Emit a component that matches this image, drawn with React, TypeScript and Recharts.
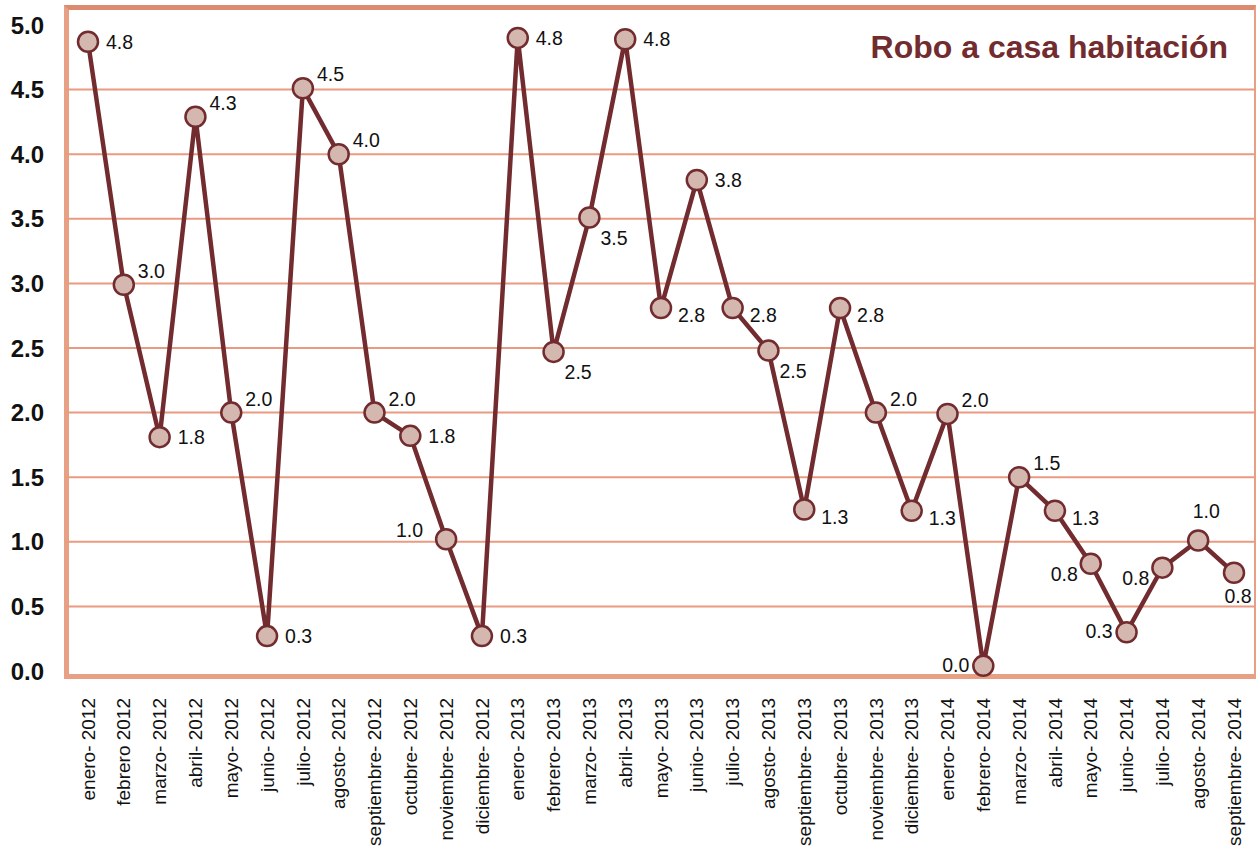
import React from 'react';
import { LineChart, Line, XAxis, YAxis, ReferenceLine } from 'recharts';

const meses = [
  'enero- 2012', 'febrero 2012', 'marzo- 2012', 'abril- 2012', 'mayo- 2012', 'junio- 2012',
  'julio- 2012', 'agosto- 2012', 'septiembre- 2012', 'octubre- 2012', 'noviembre- 2012', 'diciembre- 2012',
  'enero- 2013', 'febrero- 2013', 'marzo- 2013', 'abril- 2013', 'mayo- 2013', 'junio- 2013',
  'julio- 2013', 'agosto- 2013', 'septiembre- 2013', 'octubre- 2013', 'noviembre- 2013', 'diciembre- 2013',
  'enero- 2014', 'febrero- 2014', 'marzo- 2014', 'abril- 2014', 'mayo- 2014', 'junio- 2014',
  'julio- 2014', 'agosto- 2014', 'septiembre- 2014',
];

const tasa = [
  4.87, 2.99, 1.81, 4.29, 2.0, 0.27, 4.51, 4.0, 2.0, 1.82, 1.02, 0.27,
  4.9, 2.47, 3.51, 4.89, 2.81, 3.8, 2.81, 2.48, 1.25, 2.81, 2.0, 1.24,
  1.99, 0.04, 1.5, 1.24, 0.83, 0.3, 0.8, 1.01, 0.76,
];

const etiquetas = [
  '4.8', '3.0', '1.8', '4.3', '2.0', '0.3', '4.5', '4.0', '2.0', '1.8', '1.0', '0.3',
  '4.8', '2.5', '3.5', '4.8', '2.8', '3.8', '2.8', '2.5', '1.3', '2.8', '2.0', '1.3',
  '2.0', '0.0', '1.5', '1.3', '0.8', '0.3', '0.8', '1.0', '0.8',
];

// where each value label sits relative to its point
const lado = [
  'r', 'ru', 'r', 'ru', 'ru', 'r', 'ru', 'ru', 'ru', 'r', 'lu', 'r',
  'r', 'dr', 'dr', 'r', 'rd', 'r', 'rd', 'dr', 'rd', 'rd', 'ru', 'rd',
  'ru', 'l', 'ru', 'rd', 'ld', 'l', 'ld', 'u', 'd',
];

const yTicks = [0, 0.5, 1, 1.5, 2, 2.5, 3, 3.5, 4, 4.5, 5];
const gridLines = [0.5, 1, 1.5, 2, 2.5, 3, 3.5, 4, 4.5];

const data = meses.map((mes, i) => ({ mes, tasa: tasa[i] }));

const FONT = '"Liberation Sans", Arial, sans-serif';
const MAROON = '#722B2E';
const SALMON = '#EA9A80';

const offsets: Record<string, [number, number, 'start' | 'end' | 'middle']> = {
  r: [18, 0, 'start'],
  rd: [17, 7, 'start'],
  ru: [14, -14, 'start'],
  dr: [11, 20, 'start'],
  d: [4, 23, 'middle'],
  l: [-14, -1, 'end'],
  ld: [-13, 10, 'end'],
  lu: [-23, -9, 'end'],
  u: [8, -30, 'middle'],
};

const ValueLabel = (props: any) => {
  const { x, y, index } = props;
  const [dx, dy, anchor] = offsets[lado[index]];
  return (
    <text
      x={x + dx}
      y={y + dy}
      textAnchor={anchor}
      dominantBaseline="central"
      fontSize={19.5}
      fontFamily={FONT}
      fill="#111"
    >
      {etiquetas[index]}
    </text>
  );
};

const MonthTick = (props: any) => {
  const { x, y, payload } = props;
  return (
    <text
      x={x}
      y={y}
      transform={`rotate(-90 ${x} ${y})`}
      textAnchor="end"
      dy="0.35em"
      fontSize={19}
      fontFamily={FONT}
      fill="#111"
    >
      {payload.value}
    </text>
  );
};

export default function App() {
  return (
    <div style={{ position: 'absolute', left: 0, top: 0, width: 1257, height: 850, background: '#fff' }}>
      <div
        style={{
          position: 'absolute',
          left: 64,
          top: 5,
          width: 1192,
          height: 674,
          boxSizing: 'border-box',
          borderLeft: '5px solid #E8A084',
          borderBottom: '5px solid #E8A084',
          borderTop: '5px solid #DC8A70',
          borderRight: '2px solid #E8A084',
        }}
      />
      <LineChart
        width={1257}
        height={850}
        data={data}
        margin={{ top: 8, right: 2, left: 0, bottom: 0 }}
        style={{ position: 'absolute', left: 0, top: 0 }}
      >
        <XAxis
          dataKey="mes"
          interval={0}
          height={175}
          axisLine={false}
          tickLine={false}
          tickSize={0}
          tickMargin={23}
          padding={{ left: 22, right: 21 }}
          tick={<MonthTick />}
        />
        <YAxis
          width={66}
          domain={[0, 5]}
          ticks={yTicks}
          padding={{ top: 17, bottom: 4 }}
          axisLine={false}
          tickLine={false}
          tickSize={0}
          tickMargin={22}
          tickFormatter={(v: number) => v.toFixed(1)}
          tick={{ fontSize: 24, fontWeight: 'bold', fontFamily: FONT, fill: '#111' }}
        />
        {gridLines.map((v) => (
          <ReferenceLine key={v} y={v} stroke={SALMON} strokeWidth={2} />
        ))}
        <Line
          type="linear"
          dataKey="tasa"
          stroke={MAROON}
          strokeWidth={4.5}
          dot={{ r: 10, fill: '#D4B8B0', stroke: MAROON, strokeWidth: 2.5 }}
          activeDot={false}
          label={(p: any) => <ValueLabel key={p.index} {...p} />}
          isAnimationActive={false}
        />
      </LineChart>
      <div
        style={{
          position: 'absolute',
          right: 29,
          top: 31,
          fontFamily: FONT,
          fontWeight: 'bold',
          fontSize: 32,
          lineHeight: 1,
          color: MAROON,
          whiteSpace: 'nowrap',
        }}
      >
        Robo a casa habitación
      </div>
    </div>
  );
}
